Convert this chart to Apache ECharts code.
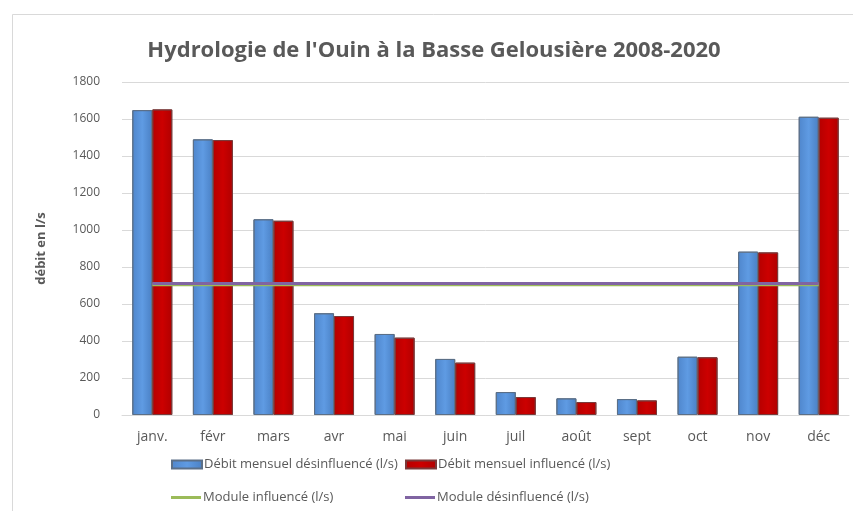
<!DOCTYPE html>
<html>
<head>
<meta charset="utf-8">
<script src="https://cdn.jsdelivr.net/npm/echarts@6/dist/echarts.min.js"></script>
<style>
html,body{margin:0;padding:0;background:#fff;}
#main{width:853px;height:511px;}
</style>
</head>
<body>
<div id="main"></div>
<script>
var months = ['janv.', 'févr', 'mars', 'avr', 'mai', 'juin', 'juil', 'août', 'sept', 'oct', 'nov', 'déc'];
var debitDesinfluence = [1648, 1490, 1058, 550, 438, 303, 124, 90, 86, 315, 883, 1612];
var debitInfluence = [1652, 1486, 1050, 535, 418, 283, 97, 70, 79, 312, 879, 1607];
var moduleInfluence = 704;
var moduleDesinfluence = 711;

var nomBleu = 'Débit mensuel désinfluencé (l/s)';
var nomRouge = 'Débit mensuel influencé (l/s)';
var nomVert = 'Module influencé (l/s)';
var nomViolet = 'Module désinfluencé (l/s)';

var police = '"Open Sans", "Liberation Sans", sans-serif';
var gris = '#595959';

var myChart = echarts.init(document.getElementById('main'));

function legende(nom, gauche, haut, hauteur) {
  return {
    data: [{ name: nom, icon: 'rect' }],
    left: gauche, top: haut,
    itemWidth: 30, itemHeight: hauteur,
    itemGap: 4,
    textStyle: { color: gris, fontSize: 13, fontFamily: police, padding: [0, 0, 0, -3] }
  };
}

var option = {
  backgroundColor: '#fff',
  title: {
    text: "Hydrologie de l'Ouin à la Basse Gelousière 2008-2020",
    left: 429, top: 35, textAlign: 'center',
    textStyle: { color: gris, fontSize: 22, fontWeight: 'bold', fontFamily: police }
  },
  graphic: [{
    type: 'rect', shape: { x: 12.5, y: 14.5, width: 900, height: 600 },
    style: { fill: 'none', stroke: '#d9d9d9', lineWidth: 1 }, silent: true
  }],
  legend: [
    legende(nomBleu, 166, 453, 8),
    legende(nomRouge, 400, 453, 8),
    legende(nomVert, 166, 486, 3),
    legende(nomViolet, 400, 486, 3)
  ],
  grid: { left: 122, right: 4, top: 82, bottom: 96 },
  xAxis: {
    type: 'category',
    data: months,
    axisLine: { lineStyle: { color: '#d9d9d9' } },
    axisTick: { show: false },
    axisLabel: { color: gris, fontSize: 14, fontFamily: police, margin: 15 }
  },
  yAxis: {
    type: 'value',
    min: 0, max: 1800, interval: 200,
    name: 'débit en l/s',
    nameLocation: 'middle',
    nameGap: 74,
    nameTextStyle: { color: gris, fontSize: 13, fontWeight: 'bold', fontFamily: police },
    axisLine: { show: false },
    axisTick: { show: false },
    axisLabel: { color: gris, fontSize: 12, fontFamily: police, margin: 22,
      formatter: function (v) { return String(v); } },
    splitLine: { lineStyle: { color: '#d9d9d9' } }
  },
  series: [
    {
      name: nomBleu, type: 'bar', data: debitDesinfluence,
      barWidth: 20, barGap: '0%',
      itemStyle: {
        color: new echarts.graphic.LinearGradient(0, 0, 1, 0, [
          { offset: 0, color: '#4f86cc' },
          { offset: 0.5, color: '#5f9be3' },
          { offset: 1, color: '#4a80c4' }
        ]),
        borderColor: '#5b6f87', borderWidth: 1
      }
    },
    {
      name: nomRouge, type: 'bar', data: debitInfluence,
      barWidth: 20,
      itemStyle: {
        color: new echarts.graphic.LinearGradient(0, 0, 1, 0, [
          { offset: 0, color: '#b50000' },
          { offset: 0.5, color: '#cc0000' },
          { offset: 1, color: '#b00000' }
        ]),
        borderColor: '#7a3a3a', borderWidth: 1
      }
    },
    {
      name: nomVert, type: 'line',
      data: months.map(function () { return moduleInfluence; }),
      symbol: 'none', z: 3,
      lineStyle: { color: '#9bbb59', width: 3 },
      itemStyle: { color: '#9bbb59' }
    },
    {
      name: nomViolet, type: 'line',
      data: months.map(function () { return moduleDesinfluence; }),
      symbol: 'none', z: 4,
      lineStyle: { color: '#8064a2', width: 3 },
      itemStyle: { color: '#8064a2' }
    }
  ]
};
myChart.setOption(option);
</script>
</body>
</html>
